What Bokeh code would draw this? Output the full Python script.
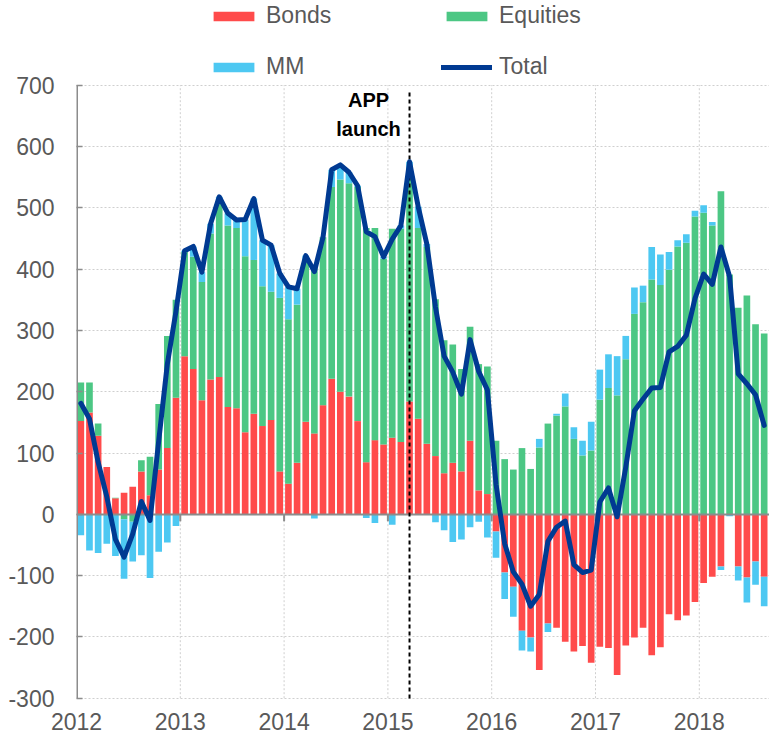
import numpy as np
import pandas as pd
from bokeh.plotting import figure
from bokeh.models import (ColumnDataSource, Range1d, FixedTicker, Legend, LegendItem)
from bokeh.core.properties import value
from bokeh.embed import file_html
from bokeh.resources import INLINE

# ---------------- data ----------------
months = pd.date_range("2012-01-01", periods=80, freq="MS")

bonds = [152, 166, 128, 77, 26, 35, 45, 70, 31, 73, 108, 190,
         258, 237, 186, 220, 224, 175, 173, 134, 164, 144, 154, 70,
         50, 84, 151, 132, 178, 221, 200, 192, 152, 85, 121, 114,
         125, 118, 184, 156, 115, 95, 67, 84, 70, 120, 39, 33,
         -28, -95, -118, -190, -201, -254, -178, -185, -208, -224, -215, -242,
         -216, -218, -262, -214, -201, -185, -230, -217, -163, -173, -165, -143,
         -112, -102, -85, 0, -85, -103, -77, -102]

equities = [63, 49, 20, 0, 1, -8, -12, 18, 63, 107, 183, 160,
            170, 183, 193, 238, 282, 296, 294, 287, 251, 228, 209, 283,
            268, 258, 261, 271, 274, 313, 346, 348, 382, 382, 346, 303,
            341, 348, 371, 311, 321, 256, 217, 193, 167, 186, 206, 208,
            120, 90, 73, 108, 74, 109, 148, 161, 176, 123, 96, 104,
            187, 206, 194, 253, 327, 346, 383, 374, 399, 437, 443, 486,
            492, 471, 527, 391, 337, 357, 310, 295]

mm = [-34, -59, -63, -48, -68, -97, -65, -67, -104, -61, -46, -19,
      2, 17, 16, 16, 12, 20, 13, 60, 100, 75, 76, 40,
      53, 26, 10, -7, 0, 28, 24, 18, 2, -6, -14, 3,
      -17, 5, 20, 35, 5, -13, -26, -45, -41, -21, -12, -38,
      -43, -43, -49, -32, -23, 14, -14, 3, 21, 19, 24, 47,
      49, 55, 64, 38, 43, 27, 53, 50, 29, 10, 14, 9,
      12, 6, -6, -3, -23, -41, -38, -48]

total = [181, 156, 85, 29, -41, -70, -32, 21, -10, 119, 245, 331,
         430, 437, 395, 474, 518, 491, 480, 481, 515, 447, 439, 393,
         371, 368, 422, 396, 452, 562, 570, 558, 536, 461, 453, 420,
         449, 471, 575, 502, 441, 338, 258, 232, 196, 285, 233, 203,
         49, -48, -94, -114, -150, -131, -44, -21, -11, -82, -95, -91,
         20, 43, -4, 77, 169, 188, 206, 207, 265, 274, 292, 352,
         392, 375, 436, 388, 229, 213, 195, 145]

year_ticks = [2012, 2013, 2014, 2015, 2016, 2017, 2018]
year_labels = ["2012", "2013", "2014", "2015", "2016", "2017", "2018"]
y_ticks = [-300, -200, -100, 0, 100, 200, 300, 400, 500, 600, 700]
y_labels = ["-300", "-200", "-100", "0", "100", "200", "300", "400", "500", "600", "700"]
app_launch = "2015-03"
app_label = "APP\nlaunch"

series_names = ["Bonds", "Equities", "MM"]
series_colors = ["#FF4B4B", "#4CC784", "#4DC8F2"]
total_color = "#003A92"

# ---------------- helpers ----------------
def to_year(ts):
    return ts.year + (ts.month - 1 + 0.5) / 12.0

x = np.array([to_year(m) for m in months])
bar_w = 0.77 / 12.0

pos_base = np.zeros(len(x))
neg_base = np.zeros(len(x))
stack = {}
for name, vals in zip(series_names, [bonds, equities, mm]):
    v = np.array(vals, dtype=float)
    bottom = np.where(v >= 0, pos_base, neg_base)
    top = bottom + v
    pos_base = np.where(v >= 0, pos_base + v, pos_base)
    neg_base = np.where(v < 0, neg_base + v, neg_base)
    stack[name] = (bottom, top)

FONT = "Liberation Sans"
GRAY_TXT = "#595959"
AXIS_GRAY = "#8C8C8C"
GRID_GRAY = "#CFCFCF"

# layout geometry (pixels)
W, H = 769, 740
BORDER_L, BORDER_B = 76, 40
FRAME_W = W - BORDER_L
FRAME_H = H - BORDER_B
PX_PER_UNIT = 613.0 / 1000.0          # 1000 value units over 613 px
PX_PER_YEAR = 103.8
Y700_FROM_TOP = 84.7                  # 700 gridline below frame top (px)
y_axis_top, y_axis_bottom = 700, -300
y_max = y_axis_top + Y700_FROM_TOP / PX_PER_UNIT
y_min = y_max - FRAME_H / PX_PER_UNIT
x_start = 2012
x_end = x_start + FRAME_W / PX_PER_YEAR

p = figure(width=W, height=H, output_backend="svg", toolbar_location=None,
           x_range=Range1d(x_start, x_end), y_range=Range1d(y_min, y_max),
           min_border_left=BORDER_L, min_border_right=0, min_border_top=0,
           min_border_bottom=BORDER_B)
p.outline_line_color = None
p.background_fill_color = "white"

# grids: horizontal via grid, vertical drawn only between -300 and 700
p.ygrid.ticker = FixedTicker(ticks=y_ticks)
p.ygrid.grid_line_color = GRID_GRAY
p.ygrid.grid_line_dash = "2 2"
p.xgrid.grid_line_color = None
p.segment(x0=year_ticks[1:], y0=[y_axis_bottom] * 6, x1=year_ticks[1:], y1=[y_axis_top] * 6,
          line_color=GRID_GRAY, line_width=1, line_dash="2 2")

# bars
renderers = {}
for name, color in zip(series_names, series_colors):
    b, t = stack[name]
    src = ColumnDataSource(dict(x=x, bottom=b, top=t))
    renderers[name] = p.vbar(x="x", width=bar_w, bottom="bottom", top="top", source=src,
                             fill_color=color, line_color=None)

# zero line
p.hspan(y=[0], line_color=AXIS_GRAY, line_width=2)
# year ticks below zero line (7px long)
tick_len = 7 / PX_PER_UNIT
p.segment(x0=year_ticks[1:], y0=[0] * 6, x1=year_ticks[1:], y1=[-tick_len] * 6,
          line_color=AXIS_GRAY, line_width=2)

# y axis line only from -300 to 700
p.segment(x0=[year_ticks[0]], y0=[y_axis_bottom], x1=[year_ticks[0]], y1=[y_axis_top],
          line_color=AXIS_GRAY, line_width=3)

# APP launch marker
app_x = to_year(pd.Timestamp(app_launch + "-01"))
p.segment(x0=[app_x], y0=[688], x1=[app_x], y1=[y_min], line_color="black",
          line_width=2, line_dash="4 3")
p.text(x=[app_x], y=[y_axis_top], text=[app_label], text_align="center", text_baseline="top",
       x_offset=-41, y_offset=4, text_font=value(FONT), text_font_style="bold",
       text_font_size="20px", text_line_height=1.3, text_color="black")

# total line
src_t = ColumnDataSource(dict(x=x, total=total))
r_total = p.line(x="x", y="total", source=src_t, line_color=total_color, line_width=5,
                 line_join="round", line_cap="round")

# axes
p.yaxis.ticker = FixedTicker(ticks=y_ticks)
p.yaxis.major_label_overrides = {t: l for t, l in zip(y_ticks, y_labels)}
p.yaxis.major_label_text_font = FONT
p.yaxis.major_label_text_font_size = "23px"
p.yaxis.major_label_text_color = GRAY_TXT
p.yaxis.axis_line_color = None
p.yaxis.major_tick_in = 6
p.yaxis.major_tick_out = 0
p.yaxis.major_tick_line_color = AXIS_GRAY
p.yaxis.major_tick_line_width = 1.5
p.yaxis.minor_tick_line_color = None
p.yaxis.major_label_standoff = 22

p.xaxis.ticker = FixedTicker(ticks=year_ticks)
p.xaxis.major_label_overrides = {t: l for t, l in zip(year_ticks, year_labels)}
p.xaxis.major_label_text_font = FONT
p.xaxis.major_label_text_font_size = "23px"
p.xaxis.major_label_text_color = GRAY_TXT
p.xaxis.axis_line_color = None
p.xaxis.major_tick_line_color = None
p.xaxis.minor_tick_line_color = None
p.xaxis.major_tick_in = 0
p.xaxis.major_tick_out = 0
p.xaxis.major_label_standoff = 12

# legend: two rows, each its own horizontal legend placed in the frame
legend_style = dict(orientation="horizontal", padding=0, margin=0, spacing=25,
                    glyph_width=51, glyph_height=12, label_standoff=7, label_width=150,
                    label_text_font=FONT, label_text_font_size="23px",
                    label_text_color=GRAY_TXT, background_fill_alpha=0,
                    border_line_alpha=0)
row1 = Legend(items=[LegendItem(label="Bonds", renderers=[renderers["Bonds"]]),
                     LegendItem(label="Equities", renderers=[renderers["Equities"]])],
              location=(132, FRAME_H - 29), **legend_style)
row2 = Legend(items=[LegendItem(label="MM", renderers=[renderers["MM"]]),
                     LegendItem(label="Total", renderers=[r_total])],
              location=(132, FRAME_H - 80), **legend_style)
p.add_layout(row1, "center")
p.add_layout(row2, "center")

open("out.html", "w").write(file_html(p, INLINE))
